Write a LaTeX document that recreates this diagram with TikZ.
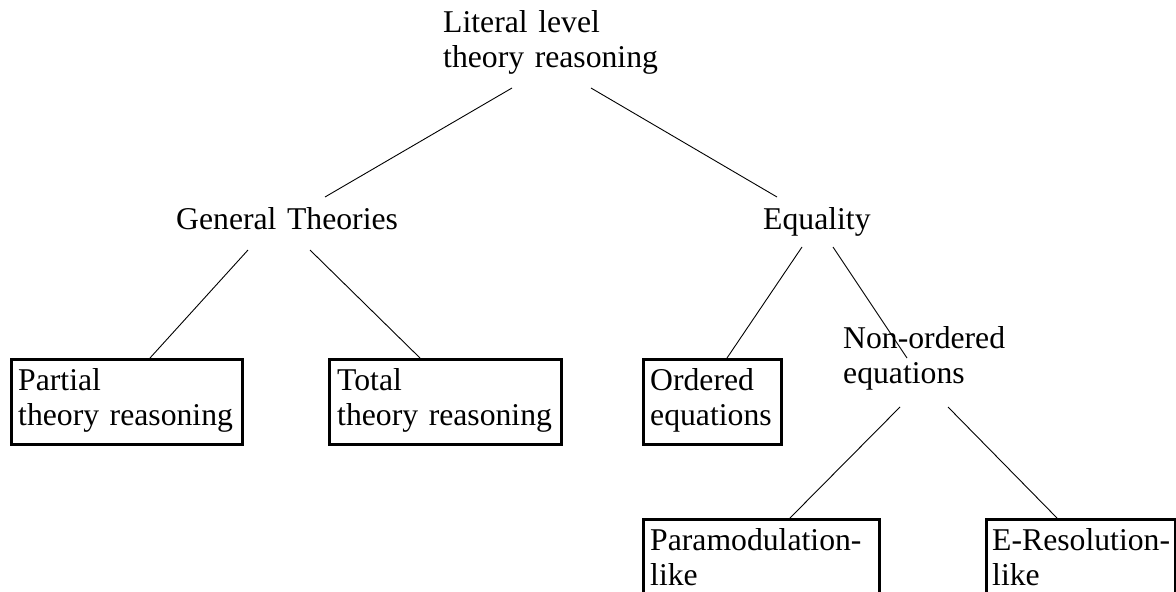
\documentclass[tikz,border=0pt]{standalone}
\usepackage{fontspec}
\setmainfont{Liberation Serif}
\begin{document}
\begin{tikzpicture}[x=1pt,y=-1pt,
  lbl/.style={inner sep=0pt,anchor=base west,align=left,text width=#1,
    font=\fontsize{31.7}{35}\selectfont},
  lbl/.default=260pt,
  boxline/.style={draw=black,line width=2.6pt,inner sep=0pt,anchor=north west},
  conn/.style={draw=black,line width=0.9pt}]
\useasboundingbox (0,0) rectangle (1176,592);
\clip (0,0) rectangle (1176,592);
% text nodes
\node[lbl] (top) at (443,32) {Literal level\\theory reasoning};
\node[lbl] (gt) at (176,229) {General Theories};
\node[lbl] (eq) at (763,229) {Equality};
\node[lbl] (non) at (843,348) {Non-ordered\\equations};
\node[lbl] (partial) at (18,390) {Partial\\theory reasoning};
\node[lbl] (total) at (337,390) {Total\\theory reasoning};
\node[lbl] (ordered) at (650,390) {Ordered\\equations};
\node[lbl] (para) at (650,550) {Paramodulation-\\like};
\node[lbl] (eres) at (992,550) {E-Resolution-\\like};
% boxes
\node[boxline,minimum width=231pt,minimum height=85pt] (pbox) at (10,358) {};
\node[boxline,minimum width=232pt,minimum height=85pt] (tbox) at (328,358) {};
\node[boxline,minimum width=138pt,minimum height=85pt] (obox) at (642,358) {};
\node[boxline,minimum width=236pt,minimum height=90pt] (pmbox) at (642,518) {};
\node[boxline,minimum width=189pt,minimum height=90pt] (ebox) at (985,518) {};
% connector end points
\coordinate (top-l) at (512,88);
\coordinate (top-r) at (591,88);
\coordinate (gt-t) at (325,197);
\coordinate (eq-t) at (777,197);
\coordinate (gt-l) at (248,250);
\coordinate (gt-r) at (310,250);
\coordinate (eq-l) at (802,247);
\coordinate (eq-r) at (833,247);
\coordinate (pbox-t) at (150,358);
\coordinate (tbox-t) at (420,358);
\coordinate (obox-t) at (727,358);
\coordinate (non-t) at (907,358);
\coordinate (non-l) at (900,407);
\coordinate (non-r) at (948,407);
\coordinate (pmbox-t) at (790,518);
\coordinate (ebox-t) at (1057,518);
% connectors
\draw[conn] (top-l) -- (gt-t);
\draw[conn] (top-r) -- (eq-t);
\draw[conn] (gt-l) -- (pbox-t);
\draw[conn] (gt-r) -- (tbox-t);
\draw[conn] (eq-l) -- (obox-t);
\draw[conn] (eq-r) -- (non-t);
\draw[conn] (non-l) -- (pmbox-t);
\draw[conn] (non-r) -- (ebox-t);
\end{tikzpicture}
\end{document}
